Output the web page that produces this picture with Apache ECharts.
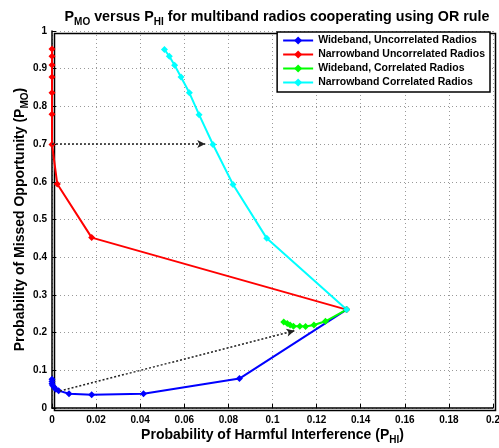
<!DOCTYPE html>
<html>
<head>
<meta charset="utf-8">
<script src="https://cdn.jsdelivr.net/npm/echarts@6/dist/echarts.min.js"></script>
<style>
  html, body { margin: 0; padding: 0; background: #fff; }
  #chart { width: 499px; height: 448px; }
</style>
</head>
<body>
<div id="chart"></div>
<script>
// P_HI (x) / P_MO (y) pairs
const wideUncorrX = [0, 0, 0, 0.0003, 0.001, 0.0017, 0.003, 0.0077, 0.018, 0.0415, 0.085, 0.1336];
const wideUncorrY = [0.076, 0.070, 0.064, 0.060, 0.055, 0.050, 0.046, 0.038, 0.035, 0.038, 0.078, 0.261];

const narrowUncorrX = [0, 0, 0, 0, 0, 0, 0, 0.0024, 0.018, 0.1336];
const narrowUncorrY = [0.952, 0.933, 0.910, 0.878, 0.836, 0.779, 0.699, 0.594, 0.452, 0.261];

const wideCorrX = [0.1051, 0.1067, 0.108, 0.1095, 0.1124, 0.115, 0.1188, 0.124, 0.1336];
const wideCorrY = [0.228, 0.224, 0.220, 0.217, 0.217, 0.216, 0.220, 0.230, 0.261];

const narrowCorrX = [0.051, 0.0532, 0.0556, 0.0585, 0.0623, 0.0667, 0.073, 0.0821, 0.0974, 0.1336];
const narrowCorrY = [0.951, 0.933, 0.909, 0.878, 0.836, 0.778, 0.699, 0.593, 0.450, 0.261];

// dotted annotation arrows: [x0, y0, x1, y1]
const arrows = [
  [0, 0.70, 0.0695, 0.70],
  [0.0036, 0.045, 0.110, 0.205]
];

const seriesNames = [
  "Wideband, Uncorrelated Radios",
  "Narrowband Uncorrelated Radios",
  "Wideband, Correlated Radios",
  "Narrowband Correlated Radios"
];
const seriesColors = ["#0000ff", "#ff0000", "#00ff00", "#00ffff"];

function pairs(xs, ys) {
  return xs.map((x, i) => [x, ys[i]]);
}

const chart = echarts.init(document.getElementById("chart"));
const font = "Liberation Sans, Arial, sans-serif";
const allData = [
  pairs(wideUncorrX, wideUncorrY),
  pairs(narrowUncorrX, narrowUncorrY),
  pairs(wideCorrX, wideCorrY),
  pairs(narrowCorrX, narrowCorrY)
];

const series = seriesNames.map((name, i) => ({
  name: name,
  type: "line",
  data: allData[i],
  symbol: "diamond",
  symbolSize: 7,
  lineStyle: { color: seriesColors[i], width: 2 },
  itemStyle: { color: seriesColors[i] },
  z: 3,
  animation: false
}));

// arrows as markLine on a helper series
series.push({
  type: "line",
  data: [],
  silent: true,
  animation: false,
  markLine: {
    silent: true,
    symbol: ["none", "arrow"],
    symbolSize: [6, 8],
    label: { show: false },
    lineStyle: { color: "#222", type: [2, 2], width: 1.5 },
    data: arrows.map(a => [{ coord: [a[0], a[1]] }, { coord: [a[2], a[3]] }])
  }
});

const nameRich = {
  t: { fontFamily: font, fontWeight: "bold", fontSize: 14, color: "#000" },
  s: { fontFamily: font, fontWeight: "bold", fontSize: 10, color: "#000", padding: [9, 0, 0, 0] }
};

chart.setOption({
  animation: false,
  title: {
    text: "{b|P}{s|MO}{b| versus P}{s|HI}{b| for multiband radios cooperating using OR rule}",
    left: 272,
    textAlign: "center",
    top: 3,
    textStyle: {
      rich: {
        b: { fontFamily: font, fontWeight: "bold", fontSize: 14.3, color: "#000" },
        s: { fontFamily: font, fontWeight: "bold", fontSize: 10, color: "#000", padding: [9, 0, 0, 0] }
      }
    }
  },
  legend: {
    right: 9,
    top: 32,
    orient: "vertical",
    backgroundColor: "#fff",
    borderColor: "#000",
    borderWidth: 1.5,
    borderRadius: 0,
    padding: [3, 5, 4, 5],
    itemGap: 3,
    itemWidth: 30,
    itemHeight: 10,
    textStyle: { fontFamily: font, fontWeight: "bold", fontSize: 10.5, color: "#000" },
    data: seriesNames
  },
  grid: { left: 52, right: 6, top: 31, bottom: 40, outerBoundsMode: "none", containLabel: false },
  xAxis: {
    type: "value",
    min: 0,
    max: 0.2,
    interval: 0.02,
    name: "{t|Probability of Harmful Interference (P}{s|HI}{t|)}",
    nameLocation: "middle",
    nameGap: 18,
    nameMoveOverlap: false,
    nameTextStyle: { rich: nameRich },
    axisLine: { show: true, onZero: false, lineStyle: { color: "#000", width: 1.5 } },
    axisTick: { inside: true, length: 4, lineStyle: { color: "#000" } },
    axisLabel: {
      fontFamily: font, fontWeight: "bold", fontSize: 10, color: "#000", margin: 7,
      formatter: v => (Math.round(v * 100) / 100).toString()
    },
    splitLine: { show: true, lineStyle: { color: "#999", type: [1, 3], width: 1 } }
  },
  yAxis: {
    type: "value",
    min: 0,
    max: 1,
    interval: 0.1,
    name: "{t|Probability of Missed Opportunity (P}{s|MO}{t|)}",
    nameLocation: "middle",
    nameGap: 22,
    nameMoveOverlap: false,
    nameRotate: 90,
    nameTextStyle: { rich: nameRich },
    axisLine: { show: true, onZero: false, lineStyle: { color: "#000", width: 1.5 } },
    axisTick: { inside: true, length: 4, lineStyle: { color: "#000" } },
    axisLabel: {
      fontFamily: font, fontWeight: "bold", fontSize: 10, color: "#000", margin: 5,
      formatter: v => (Math.round(v * 10) / 10).toString()
    },
    splitLine: { show: true, lineStyle: { color: "#999", type: [1, 3], width: 1 } }
  },
  graphic: [{
    type: "rect",
    left: 52,
    top: 31,
    shape: { width: 441, height: 377 },
    style: { fill: "none", stroke: "#000", lineWidth: 1.5 },
    silent: true,
    z: 0
  }],
  series: series
});
</script>
</body>
</html>
